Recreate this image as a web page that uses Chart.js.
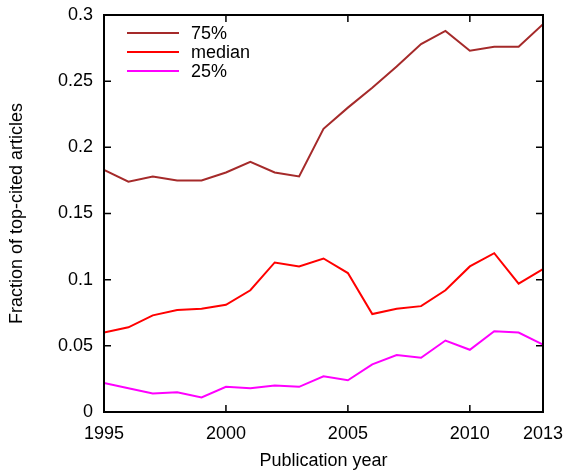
<!DOCTYPE html>
<html>
<head>
  <script src="https://cdn.jsdelivr.net/npm/chart.js@4/dist/chart.umd.min.js"></script>
  <style>
    body { margin: 0; background: #fff; }
    #wrap { width: 568px; height: 474px; }
  </style>
</head>
<body>
  <div id="wrap"><canvas id="chart" width="568" height="474"></canvas></div>
  <script>
    const years = [1995, 1996, 1997, 1998, 1999, 2000, 2001, 2002, 2003, 2004,
                   2005, 2006, 2007, 2008, 2009, 2010, 2011, 2012, 2013];
    const p75 = [0.183, 0.174, 0.178, 0.175, 0.175, 0.181, 0.189, 0.181, 0.178, 0.214,
                 0.230, 0.245, 0.261, 0.278, 0.288, 0.273, 0.276, 0.276, 0.293];
    const median = [0.060, 0.064, 0.073, 0.077, 0.078, 0.081, 0.092, 0.113, 0.110, 0.116,
                    0.105, 0.074, 0.078, 0.080, 0.092, 0.110, 0.120, 0.097, 0.108];
    const p25 = [0.022, 0.018, 0.014, 0.015, 0.011, 0.019, 0.018, 0.020, 0.019, 0.027,
                 0.024, 0.036, 0.043, 0.041, 0.054, 0.047, 0.061, 0.060, 0.051];
    const xTicks = [1995, 2000, 2005, 2010, 2013];
    const yTicks = [0, 0.05, 0.1, 0.15, 0.2, 0.25, 0.3];

    const FONT = 'Liberation Sans, Arial, sans-serif';

    function pts(vals) {
      return years.map((y, i) => ({ x: y, y: vals[i] }));
    }

    // frame with inward ticks on all four sides, gnuplot style
    const frame = {
      id: 'frame',
      afterDatasetsDraw(chart) {
        const { ctx, chartArea: a, scales } = chart;
        const tl = 7;
        ctx.save();
        ctx.strokeStyle = '#000';
        ctx.lineWidth = 1.5;
        ctx.beginPath();
        xTicks.forEach(v => {
          const x = scales.x.getPixelForValue(v);
          ctx.moveTo(x, a.bottom); ctx.lineTo(x, a.bottom - tl);
          ctx.moveTo(x, a.top); ctx.lineTo(x, a.top + tl);
        });
        yTicks.forEach(v => {
          const y = scales.y.getPixelForValue(v);
          ctx.moveTo(a.left, y); ctx.lineTo(a.left + tl, y);
          ctx.moveTo(a.right, y); ctx.lineTo(a.right - tl, y);
        });
        ctx.stroke();
        ctx.lineWidth = 2;
        ctx.strokeRect(a.left, a.top, a.right - a.left, a.bottom - a.top);

        // legend
        ctx.font = '18px ' + FONT;
        ctx.textBaseline = 'middle';
        ctx.fillStyle = '#000';
        chart.data.datasets.forEach((ds, i) => {
          const y = 33 + i * 19;
          ctx.strokeStyle = ds.borderColor;
          ctx.lineWidth = 2;
          ctx.beginPath();
          ctx.moveTo(127, y); ctx.lineTo(179, y);
          ctx.stroke();
          ctx.fillText(ds.label, 191, y + 1);
        });
        ctx.restore();
      }
    };

    new Chart('chart', {
      type: 'line',
      data: {
        datasets: [
          { label: '75%', data: pts(p75), borderColor: '#a52a2a' },
          { label: 'median', data: pts(median), borderColor: '#ff0000' },
          { label: '25%', data: pts(p25), borderColor: '#ff00ff' }
        ]
      },
      options: {
        responsive: false,
        animation: false,
        layout: { padding: { left: 0, right: 25, top: 15, bottom: 0 } },
        elements: {
          point: { radius: 0 },
          line: { borderWidth: 2, tension: 0 }
        },
        plugins: { legend: { display: false }, tooltip: { enabled: false } },
        scales: {
          x: {
            type: 'linear',
            min: 1995,
            max: 2013,
            afterBuildTicks: s => { s.ticks = xTicks.map(v => ({ value: v })); },
            afterFit: s => { s.height = 62; s.paddingLeft = 0; s.paddingRight = 0; },
            grid: { display: false, drawTicks: false },
            border: { display: false },
            ticks: {
              color: '#000',
              padding: 11,
              maxRotation: 0,
              font: { family: FONT, size: 18 },
              callback: v => String(v)
            },
            title: {
              display: true,
              text: 'Publication year',
              color: '#000',
              padding: { top: 0, bottom: 2 },
              font: { family: FONT, size: 18 }
            }
          },
          y: {
            min: 0,
            max: 0.3,
            afterBuildTicks: s => { s.ticks = yTicks.map(v => ({ value: v })); },
            afterFit: s => { s.width = 104; s.paddingTop = 0; s.paddingBottom = 0; },
            grid: { display: false, drawTicks: false },
            border: { display: false },
            ticks: {
              color: '#000',
              padding: 11,
              font: { family: FONT, size: 18 },
              callback: v => String(+v.toFixed(2))
            },
            title: {
              display: true,
              text: 'Fraction of top-cited articles',
              color: '#000',
              padding: { top: 6, bottom: 0 },
              font: { family: FONT, size: 18 }
            }
          }
        }
      },
      plugins: [frame]
    });
  </script>
</body>
</html>
